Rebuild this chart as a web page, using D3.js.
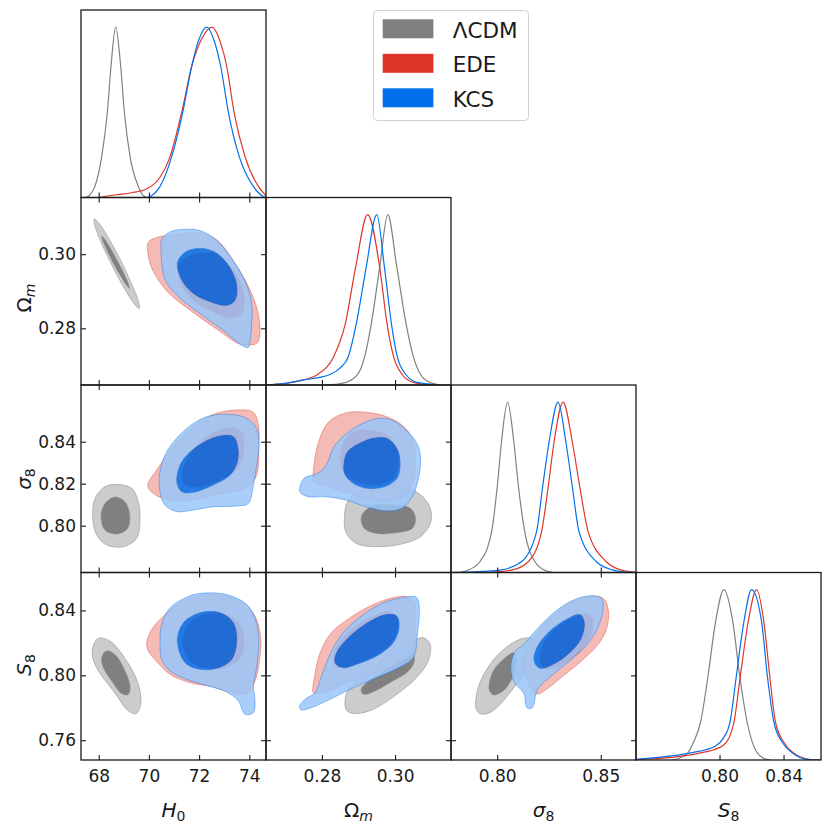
<!DOCTYPE html>
<html>
<head>
<meta charset="utf-8">
<script src="https://cdn.jsdelivr.net/npm/d3@7"></script>
<style>
  body { margin: 0; background: #fff; }
  text { font-family: "DejaVu Sans", sans-serif; }
</style>
</head>
<body>
<svg id="chart" width="831" height="831"></svg>
<script>
// parameters, plot ranges and ticks
var params = ['H0', 'Om', 's8', 'S8'];
var ranges = {H0: [67.295, 74.665], Om: [0.2647, 0.3153], s8: [0.7777, 0.867], S8: [0.7478, 0.8634]};
var xTicks = {H0: [68, 70, 72, 74], Om: [0.28, 0.30], s8: [0.80, 0.85], S8: [0.80, 0.84]};
var yTicks = {Om: [0.28, 0.30], s8: [0.80, 0.82, 0.84], S8: [0.76, 0.80, 0.84]};

var models = ['\u039BCDM', 'EDE', 'KCS'];
var colors = ['#808080', '#e0352a', '#0070ed'];

// 1D marginals: [value, normalised density]
var lcdm_H0 = [[67.5,0],[67.65,0.015],[67.85,0.065],[68.12,0.24],[68.345,0.5],[68.49,0.77],[68.677,1.0],[68.876,0.77],[69.023,0.5],[69.25,0.24],[69.58,0.065],[69.75,0.015],[69.9,0]];
var ede_H0 = [[68.0,0],[68.7,0.016],[69.3,0.028],[69.9,0.05],[70.4,0.11],[70.842,0.24],[71.307,0.5],[71.705,0.77],[72.1,0.93],[72.515,1.0],[72.85,0.91],[73.1,0.77],[73.392,0.5],[73.83,0.24],[74.36,0.065],[74.665,0.01]];
var kcs_H0 = [[69.9,0],[70.05,0.006],[70.444,0.065],[70.908,0.24],[71.347,0.5],[71.705,0.77],[72.0,0.93],[72.303,1.0],[72.6,0.92],[72.86,0.77],[73.166,0.5],[73.6,0.24],[74.16,0.065],[74.56,0.006],[74.665,0]];

var lcdm_Om = [[0.2815,0],[0.285,0.008],[0.288,0.03],[0.2905,0.09],[0.2917,0.166],[0.2935,0.36],[0.2958,0.69],[0.298,1.0],[0.3005,0.69],[0.303,0.36],[0.305,0.166],[0.307,0.06],[0.309,0.02],[0.3125,0]];
var ede_Om = [[0.2647,0],[0.270,0.01],[0.275,0.03],[0.279,0.065],[0.2832,0.166],[0.2864,0.36],[0.2892,0.69],[0.2925,1.0],[0.2958,0.69],[0.2978,0.36],[0.2996,0.166],[0.302,0.06],[0.305,0.015],[0.3085,0.003],[0.3127,0]];
var kcs_Om = [[0.2647,0],[0.270,0.01],[0.275,0.03],[0.2795,0.045],[0.2822,0.062],[0.285,0.1],[0.2872,0.166],[0.2894,0.36],[0.2921,0.69],[0.295,1.0],[0.2971,0.69],[0.299,0.36],[0.3006,0.166],[0.303,0.06],[0.306,0.015],[0.3127,0]];

var lcdm_s8 = [[0.782,0],[0.7852,0.01],[0.7916,0.063],[0.7973,0.24],[0.800,0.5],[0.8021,0.77],[0.805,1.0],[0.808,0.77],[0.8103,0.5],[0.8133,0.24],[0.8182,0.063],[0.8235,0.01],[0.827,0]];
var ede_s8 = [[0.795,0],[0.8069,0.014],[0.815,0.063],[0.8214,0.24],[0.8246,0.5],[0.8275,0.77],[0.8318,1.0],[0.8362,0.77],[0.8399,0.5],[0.8439,0.24],[0.8527,0.063],[0.86,0.014],[0.867,0.002]];
var kcs_s8 = [[0.7777,0],[0.7884,0.004],[0.8013,0.014],[0.8117,0.063],[0.819,0.24],[0.8219,0.5],[0.8251,0.77],[0.8294,1.0],[0.8331,0.77],[0.8363,0.5],[0.8395,0.24],[0.8479,0.063],[0.8559,0.014],[0.862,0.002],[0.867,0]];

var lcdm_S8 = [[0.770,0],[0.7746,0.01],[0.780,0.04],[0.784,0.11],[0.7881,0.22],[0.7929,0.5],[0.7975,0.81],[0.8027,1.0],[0.8083,0.81],[0.8125,0.5],[0.8173,0.22],[0.823,0.05],[0.8288,0.005],[0.832,0]];
var ede_S8 = [[0.7478,0.002],[0.7683,0.014],[0.780,0.027],[0.7892,0.043],[0.8017,0.082],[0.806,0.13],[0.809,0.22],[0.8131,0.5],[0.8179,0.81],[0.8231,1.0],[0.8277,0.81],[0.8313,0.5],[0.835,0.22],[0.8405,0.1],[0.846,0.043],[0.857,0.003],[0.8634,0]];
var kcs_S8 = [[0.7478,0.003],[0.76,0.014],[0.775,0.03],[0.783,0.043],[0.7975,0.082],[0.8025,0.13],[0.8065,0.22],[0.8106,0.5],[0.8152,0.81],[0.82,1.0],[0.8263,0.81],[0.8298,0.5],[0.834,0.22],[0.8395,0.1],[0.8454,0.043],[0.8558,0.003],[0.8634,0]];

// 2D contours (95% and 68%), points as [x param, y param]
var lcdm_H0_Om_95 = [[69.614,0.2854],[69.582,0.2873],[69.319,0.2919],[68.894,0.2981],[68.422,0.3040],[68.029,0.3082],[67.821,0.3095],[67.853,0.3076],[68.116,0.3029],[68.541,0.2968],[69.012,0.2909],[69.405,0.2867]];
var lcdm_H0_Om_68 = [[69.222,0.2908],[69.189,0.2919],[69.017,0.2946],[68.753,0.2981],[68.466,0.3016],[68.235,0.3041],[68.120,0.3049],[68.153,0.3038],[68.324,0.3011],[68.588,0.2975],[68.875,0.2941],[69.106,0.2916]];
var ede_H0_Om_95 = [[69.979,0.3032],[70.311,0.3045],[70.975,0.3052],[72.037,0.3058],[72.701,0.3039],[73.365,0.2982],[73.963,0.2913],[74.321,0.2849],[74.428,0.2794],[74.321,0.2761],[73.963,0.2755],[73.564,0.2759],[72.701,0.2798],[71.639,0.2849],[70.776,0.2896],[70.244,0.2945],[70.005,0.2986]];
var ede_H0_Om_68 = [[71.214,0.2977],[71.772,0.2999],[72.568,0.3003],[73.232,0.2968],[73.657,0.2922],[73.803,0.2872],[73.657,0.2837],[73.232,0.2828],[72.436,0.2849],[71.838,0.2872],[71.373,0.2908],[71.174,0.2945]];
var kcs_H0_Om_95 = [[70.510,0.3041],[70.842,0.3060],[71.373,0.3067],[72.037,0.3064],[72.701,0.3037],[73.365,0.2982],[73.896,0.2917],[74.096,0.2867],[74.096,0.2812],[74.029,0.2766],[73.963,0.2748],[73.631,0.2757],[72.967,0.2794],[72.037,0.2839],[71.108,0.2890],[70.643,0.2931],[70.510,0.2977],[70.483,0.3014]];
var kcs_H0_Om_68 = [[71.134,0.2977],[71.440,0.3005],[72.037,0.3016],[72.701,0.3003],[73.232,0.2963],[73.498,0.2917],[73.432,0.2876],[73.100,0.2862],[72.436,0.2872],[71.772,0.2894],[71.307,0.2931]];

var lcdm_H0_s8_95 = [[68.717,0.8197],[69.315,0.8178],[69.580,0.8114],[69.647,0.8035],[69.514,0.7940],[68.983,0.7900],[68.319,0.7908],[67.920,0.7956],[67.761,0.8035],[67.854,0.8130],[68.252,0.8186]];
var lcdm_H0_s8_68 = [[68.651,0.8137],[69.049,0.8114],[69.235,0.8051],[69.155,0.7987],[68.717,0.7960],[68.252,0.7979],[68.093,0.8043],[68.252,0.8106]];
var ede_H0_s8_95 = [[69.952,0.8194],[70.311,0.8265],[70.975,0.8376],[71.772,0.8471],[72.568,0.8530],[73.498,0.8551],[74.162,0.8540],[74.361,0.8479],[74.375,0.8368],[74.295,0.8241],[73.896,0.8181],[73.100,0.8159],[72.037,0.8130],[71.240,0.8117],[70.576,0.8130],[70.112,0.8159]];
var ede_H0_s8_68 = [[71.307,0.8241],[71.705,0.8352],[72.436,0.8435],[73.232,0.8467],[73.697,0.8448],[73.790,0.8368],[73.564,0.8281],[72.834,0.8217],[72.037,0.8186],[71.479,0.8190]];
var kcs_H0_s8_95 = [[70.417,0.8241],[70.709,0.8352],[71.506,0.8463],[72.303,0.8519],[73.232,0.8530],[73.896,0.8511],[74.295,0.8463],[74.388,0.8384],[74.295,0.8289],[74.162,0.8194],[73.963,0.8106],[73.498,0.8094],[72.568,0.8090],[71.772,0.8075],[71.108,0.8067],[70.643,0.8098],[70.470,0.8146]];
var kcs_H0_s8_68 = [[71.108,0.8210],[71.307,0.8305],[71.904,0.8376],[72.701,0.8424],[73.365,0.8424],[73.538,0.8376],[73.525,0.8305],[73.232,0.8241],[72.568,0.8194],[71.772,0.8159],[71.307,0.8162]];

var lcdm_Om_s8_95 = [[0.2870,0.8114],[0.2912,0.8178],[0.2986,0.8197],[0.3051,0.8170],[0.3093,0.8098],[0.3098,0.8019],[0.3070,0.7948],[0.3014,0.7911],[0.2949,0.7900],[0.2893,0.7916],[0.2865,0.7971],[0.2862,0.8051]];
var lcdm_Om_s8_68 = [[0.2912,0.8059],[0.2940,0.8095],[0.2995,0.8098],[0.3042,0.8083],[0.3056,0.8035],[0.3047,0.7987],[0.3005,0.7967],[0.2949,0.7963],[0.2916,0.7987],[0.2907,0.8027]];
var ede_Om_s8_95 = [[0.2777,0.8265],[0.2791,0.8400],[0.2819,0.8495],[0.2865,0.8537],[0.2921,0.8540],[0.2977,0.8519],[0.3019,0.8479],[0.3047,0.8416],[0.3056,0.8321],[0.3051,0.8217],[0.3031,0.8154],[0.2995,0.8122],[0.2940,0.8122],[0.2874,0.8154],[0.2809,0.8190],[0.2777,0.8210]];
var ede_Om_s8_68 = [[0.2851,0.8305],[0.2860,0.8400],[0.2888,0.8448],[0.2930,0.8456],[0.2977,0.8432],[0.3007,0.8368],[0.3009,0.8289],[0.2991,0.8217],[0.2949,0.8194],[0.2893,0.8210],[0.2860,0.8249]];
var kcs_Om_s8_95 = [[0.2740,0.8186],[0.2753,0.8229],[0.2781,0.8244],[0.2809,0.8281],[0.2833,0.8376],[0.2865,0.8435],[0.2907,0.8483],[0.2953,0.8511],[0.2991,0.8503],[0.3033,0.8451],[0.3062,0.8384],[0.3070,0.8313],[0.3062,0.8210],[0.3047,0.8138],[0.3019,0.8083],[0.2977,0.8070],[0.2921,0.8090],[0.2865,0.8122],[0.2809,0.8138],[0.2763,0.8138],[0.2740,0.8159]];
var kcs_Om_s8_68 = [[0.2860,0.8289],[0.2870,0.8352],[0.2912,0.8400],[0.2949,0.8419],[0.2981,0.8413],[0.3007,0.8360],[0.3014,0.8289],[0.3005,0.8225],[0.2972,0.8186],[0.2921,0.8178],[0.2879,0.8210],[0.2862,0.8249]];

var lcdm_H0_S8_95 = [[67.761,0.8170],[67.987,0.8228],[68.452,0.8211],[69.116,0.8088],[69.580,0.7945],[69.673,0.7822],[69.487,0.7764],[69.182,0.7781],[68.584,0.7904],[67.987,0.8027],[67.761,0.8109]];
var lcdm_H0_S8_68 = [[68.120,0.8109],[68.292,0.8150],[68.651,0.8129],[69.049,0.8027],[69.248,0.7934],[69.182,0.7883],[68.916,0.7887],[68.518,0.7965],[68.186,0.8047]];
var ede_H0_S8_95 = [[69.912,0.8201],[70.112,0.8283],[70.576,0.8365],[71.240,0.8447],[72.037,0.8492],[72.967,0.8492],[73.764,0.8447],[74.229,0.8365],[74.454,0.8232],[74.401,0.8088],[74.229,0.7965],[73.896,0.7887],[73.365,0.7891],[72.568,0.7928],[71.639,0.7955],[70.842,0.8006],[70.244,0.8098],[69.979,0.8150]];
var ede_H0_S8_68 = [[71.347,0.8211],[71.639,0.8324],[72.303,0.8379],[73.100,0.8375],[73.657,0.8304],[73.790,0.8211],[73.631,0.8109],[73.100,0.8051],[72.303,0.8043],[71.639,0.8088]];
var kcs_H0_S8_95 = [[70.444,0.8191],[70.510,0.8314],[70.842,0.8416],[71.506,0.8482],[72.037,0.8505],[73.100,0.8498],[73.896,0.8437],[74.268,0.8334],[74.375,0.8191],[74.268,0.8027],[74.162,0.7934],[74.229,0.7842],[74.162,0.7770],[73.830,0.7760],[73.564,0.7842],[73.100,0.7897],[72.303,0.7938],[71.506,0.7975],[70.842,0.8027],[70.510,0.8098]];
var kcs_H0_S8_68 = [[71.134,0.8211],[71.373,0.8324],[72.037,0.8386],[72.834,0.8386],[73.365,0.8324],[73.498,0.8211],[73.299,0.8098],[72.701,0.8043],[72.037,0.8037],[71.440,0.8078]];

var lcdm_Om_S8_95 = [[0.2863,0.7842],[0.2872,0.7914],[0.2913,0.8006],[0.2977,0.8109],[0.3041,0.8201],[0.3078,0.8232],[0.3096,0.8191],[0.3091,0.8088],[0.3059,0.7986],[0.3005,0.7883],[0.2941,0.7791],[0.2895,0.7764],[0.2868,0.7781]];
var lcdm_Om_S8_68 = [[0.2907,0.7914],[0.2922,0.7955],[0.2977,0.8037],[0.3027,0.8119],[0.3048,0.8146],[0.3053,0.8088],[0.3037,0.8027],[0.2986,0.7955],[0.2941,0.7899],[0.2913,0.7883]];
var ede_Om_S8_95 = [[0.2776,0.7893],[0.2781,0.8006],[0.2795,0.8139],[0.2826,0.8263],[0.2877,0.8355],[0.2932,0.8427],[0.2986,0.8474],[0.3034,0.8484],[0.3053,0.8447],[0.3056,0.8293],[0.3050,0.8146],[0.3014,0.8078],[0.2959,0.8027],[0.2886,0.7969],[0.2822,0.7908],[0.2785,0.7887]];
var ede_Om_S8_68 = [[0.2831,0.8088],[0.2840,0.8181],[0.2877,0.8273],[0.2932,0.8355],[0.2977,0.8392],[0.3005,0.8365],[0.3005,0.8263],[0.2977,0.8170],[0.2922,0.8098],[0.2868,0.8051],[0.2840,0.8051]];
var kcs_Om_S8_95 = [[0.2738,0.7801],[0.2753,0.7852],[0.2781,0.7893],[0.2799,0.7996],[0.2822,0.8129],[0.2858,0.8263],[0.2913,0.8375],[0.2968,0.8447],[0.3018,0.8478],[0.3058,0.8482],[0.3066,0.8427],[0.3061,0.8252],[0.3050,0.8109],[0.3014,0.8051],[0.2950,0.7986],[0.2877,0.7914],[0.2822,0.7852],[0.2776,0.7805],[0.2745,0.7787]];
var kcs_Om_S8_68 = [[0.2836,0.8078],[0.2840,0.8139],[0.2877,0.8242],[0.2932,0.8334],[0.2977,0.8375],[0.3005,0.8365],[0.3011,0.8293],[0.2995,0.8201],[0.2950,0.8119],[0.2895,0.8068],[0.2858,0.8047]];

var lcdm_s8_S8_95 = [[0.7897,0.7801],[0.7908,0.7924],[0.7965,0.8068],[0.8045,0.8174],[0.8125,0.8228],[0.8182,0.8222],[0.8190,0.8150],[0.8158,0.8047],[0.8093,0.7945],[0.8029,0.7842],[0.7965,0.7770],[0.7916,0.7764]];
var lcdm_s8_S8_68 = [[0.7961,0.7914],[0.7981,0.8027],[0.8029,0.8098],[0.8080,0.8139],[0.8090,0.8068],[0.8069,0.7975],[0.8029,0.7904],[0.7981,0.7879]];
var ede_s8_S8_95 = [[0.8182,0.7889],[0.8138,0.7996],[0.8138,0.8139],[0.8198,0.8273],[0.8278,0.8379],[0.8375,0.8462],[0.8463,0.8488],[0.8514,0.8472],[0.8537,0.8396],[0.8527,0.8283],[0.8487,0.8191],[0.8415,0.8098],[0.8318,0.7996],[0.8238,0.7914],[0.8203,0.7887]];
var ede_s8_S8_68 = [[0.8206,0.8088],[0.8222,0.8191],[0.8286,0.8293],[0.8383,0.8365],[0.8447,0.8375],[0.8463,0.8314],[0.8439,0.8211],[0.8367,0.8109],[0.8278,0.8047],[0.8222,0.8047]];
var kcs_s8_S8_95 = [[0.8069,0.8088],[0.8090,0.8154],[0.8125,0.8187],[0.8177,0.8263],[0.8254,0.8365],[0.8350,0.8453],[0.8431,0.8488],[0.8500,0.8478],[0.8511,0.8416],[0.8495,0.8324],[0.8447,0.8211],[0.8367,0.8109],[0.8270,0.8006],[0.8207,0.7934],[0.8186,0.7885],[0.8180,0.7835],[0.8168,0.7799],[0.8146,0.7798],[0.8136,0.7830],[0.8132,0.7878],[0.8116,0.7910],[0.8086,0.7951],[0.8068,0.8013]];
var kcs_s8_S8_68 = [[0.8178,0.8088],[0.8193,0.8174],[0.8254,0.8273],[0.8334,0.8345],[0.8399,0.8375],[0.8420,0.8330],[0.8407,0.8232],[0.8350,0.8139],[0.8270,0.8068],[0.8206,0.8043]];

// lookup tables built from the arrays above
var marginals = {
    H0: [lcdm_H0, ede_H0, kcs_H0],
    Om: [lcdm_Om, ede_Om, kcs_Om],
    s8: [lcdm_s8, ede_s8, kcs_s8],
    S8: [lcdm_S8, ede_S8, kcs_S8]
};
var contours = {
    'H0|Om': [[lcdm_H0_Om_95, lcdm_H0_Om_68], [ede_H0_Om_95, ede_H0_Om_68], [kcs_H0_Om_95, kcs_H0_Om_68]],
    'H0|s8': [[lcdm_H0_s8_95, lcdm_H0_s8_68], [ede_H0_s8_95, ede_H0_s8_68], [kcs_H0_s8_95, kcs_H0_s8_68]],
    'Om|s8': [[lcdm_Om_s8_95, lcdm_Om_s8_68], [ede_Om_s8_95, ede_Om_s8_68], [kcs_Om_s8_95, kcs_Om_s8_68]],
    'H0|S8': [[lcdm_H0_S8_95, lcdm_H0_S8_68], [ede_H0_S8_95, ede_H0_S8_68], [kcs_H0_S8_95, kcs_H0_S8_68]],
    'Om|S8': [[lcdm_Om_S8_95, lcdm_Om_S8_68], [ede_Om_S8_95, ede_Om_S8_68], [kcs_Om_S8_95, kcs_Om_S8_68]],
    's8|S8': [[lcdm_s8_S8_95, lcdm_s8_S8_68], [ede_s8_S8_95, ede_s8_S8_68], [kcs_s8_S8_95, kcs_s8_S8_68]]
};

// getdist-like styling: outer level is the colour paled towards white
var alphas = [1, 0.85, 0.85];
function pale(c) {
    var rgb = d3.rgb(c);
    return d3.rgb(rgb.r * 0.4 + 153, rgb.g * 0.4 + 153, rgb.b * 0.4 + 153).formatHex();
}

var gridLeft = 81, gridTop = 10, pw = 185, ph = 187.5, tickLen = 5;
var svg = d3.select('#chart');

var xs = {}, ys = {};
params.forEach(function(p) {
    xs[p] = d3.scaleLinear().domain(ranges[p]).range([0, pw]);
    ys[p] = d3.scaleLinear().domain(ranges[p]).range([ph, 0]);
});
var dens = d3.scaleLinear().domain([0, 1.1]).range([ph, 0]);

function fmt(p) {
    return p === 'H0' ? d3.format('d') : d3.format('.2f');
}
function blank() { return ''; }

function styleAxis(g) {
    g.select('.domain').remove();
    g.attr('font-size', 17).attr('font-family', '"DejaVu Sans", sans-serif').attr('color', '#1a1a1a');
    g.selectAll('.tick line').attr('stroke-width', 1.1);
}

for (var i = 0; i < 4; i++) {
    for (var j = 0; j <= i; j++) {
        var px = params[j], py = params[i];
        var g = svg.append('g').attr('transform', 'translate(' + (gridLeft + j * pw) + ',' + (gridTop + i * ph) + ')');
        var clipId = 'clip' + i + j;
        g.append('clipPath').attr('id', clipId)
            .append('rect').attr('width', pw).attr('height', ph);
        var plot = g.append('g').attr('clip-path', 'url(#' + clipId + ')');

        if (i === j) {
            var line1d = d3.line()
                .x(function(d) { return xs[px](d[0]); })
                .y(function(d) { return dens(d[1]); })
                .curve(d3.curveMonotoneX);
            marginals[px].forEach(function(curve, k) {
                plot.append('path')
                    .attr('d', line1d(curve))
                    .attr('fill', 'none')
                    .attr('stroke', colors[k])
                    .attr('stroke-width', 1.2);
            });
        } else {
            var line2d = d3.line()
                .x(function(d) { return xs[px](d[0]); })
                .y(function(d) { return ys[py](d[1]); })
                .curve(d3.curveCatmullRomClosed.alpha(0.5));
            contours[px + '|' + py].forEach(function(levels, k) {
                var outer = levels[0], inner = levels[1];
                var layer = plot.append('g').attr('opacity', alphas[k]);
                // 95% band with the 68% region cut out
                layer.append('path')
                    .attr('d', line2d(outer) + line2d(inner))
                    .attr('fill', pale(colors[k]))
                    .attr('fill-rule', 'evenodd');
                layer.append('path')
                    .attr('d', line2d(inner))
                    .attr('fill', colors[k]);
                layer.append('path')
                    .attr('d', line2d(outer))
                    .attr('fill', 'none')
                    .attr('stroke', colors[k])
                    .attr('stroke-opacity', 0.6)
                    .attr('stroke-width', 0.8);
                layer.append('path')
                    .attr('d', line2d(inner))
                    .attr('fill', 'none')
                    .attr('stroke', colors[k])
                    .attr('stroke-opacity', 0.6)
                    .attr('stroke-width', 0.8);
            });
        }

        // ticks, all pointing inwards
        var bottom = d3.axisBottom(xs[px]).tickValues(xTicks[px])
            .tickSizeInner(-tickLen).tickSizeOuter(0).tickPadding(10)
            .tickFormat(i === 3 ? fmt(px) : blank);
        g.append('g').attr('transform', 'translate(0,' + ph + ')').call(bottom).call(styleAxis);

        if (i !== j) {
            g.append('g').call(d3.axisTop(xs[px]).tickValues(xTicks[px])
                .tickSizeInner(-tickLen).tickSizeOuter(0).tickFormat(blank)).call(styleAxis);
            g.append('g').call(d3.axisLeft(ys[py]).tickValues(yTicks[py])
                .tickSizeInner(-tickLen).tickSizeOuter(0).tickPadding(5)
                .tickFormat(j === 0 ? fmt(py) : blank)).call(styleAxis);
            g.append('g').attr('transform', 'translate(' + pw + ',0)')
                .call(d3.axisRight(ys[py]).tickValues(yTicks[py])
                .tickSizeInner(-tickLen).tickSizeOuter(0).tickFormat(blank)).call(styleAxis);
        }

        g.append('rect')
            .attr('width', pw).attr('height', ph)
            .attr('fill', 'none').attr('stroke', '#1a1a1a').attr('stroke-width', 1.3);
    }
}

// axis labels (mathtext-like)
var labelParts = {
    H0: [['H', 'italic'], ['0', 'sub']],
    Om: [['\u03A9', 'normal'], ['m', 'subit']],
    s8: [['\u03C3', 'italic'], ['8', 'sub']],
    S8: [['S', 'italic'], ['8', 'sub']]
};
function writeLabel(t, p) {
    labelParts[p].forEach(function(part) {
        var s = t.append('tspan').text(part[0]);
        if (part[1] === 'italic') s.attr('font-style', 'italic');
        if (part[1] === 'sub' || part[1] === 'subit') {
            s.attr('font-size', 14).attr('dy', 3.5);
            if (part[1] === 'subit') s.attr('font-style', 'italic');
        }
    });
}

params.forEach(function(p, j) {
    var t = svg.append('text')
        .attr('x', gridLeft + j * pw + pw / 2)
        .attr('y', 817)
        .attr('text-anchor', 'middle')
        .attr('font-size', 20)
        .attr('fill', '#1a1a1a');
    writeLabel(t, p);
});

var yLabelCenters = [null, 298, 479, 665];
params.forEach(function(p, i) {
    if (i === 0) return;
    var t = svg.append('text')
        .attr('transform', 'translate(31,' + yLabelCenters[i] + ') rotate(-90)')
        .attr('text-anchor', 'middle')
        .attr('font-size', 20)
        .attr('fill', '#1a1a1a');
    writeLabel(t, p);
});

// legend
var legend = svg.append('g');
legend.append('rect')
    .attr('x', 373.5).attr('y', 10.5).attr('width', 155).attr('height', 110).attr('rx', 4)
    .attr('fill', '#fff').attr('stroke', '#d0d0d0').attr('stroke-width', 1);
models.forEach(function(m, k) {
    legend.append('rect')
        .attr('x', 382.7).attr('y', 19.3 + k * 34.5)
        .attr('width', 50.7).attr('height', 19)
        .attr('fill', colors[k]);
    legend.append('text')
        .attr('x', 452.7).attr('y', 37.9 + k * 34.5)
        .attr('font-size', 21.5)
        .attr('fill', '#1a1a1a')
        .text(m);
});
</script>
</body>
</html>
